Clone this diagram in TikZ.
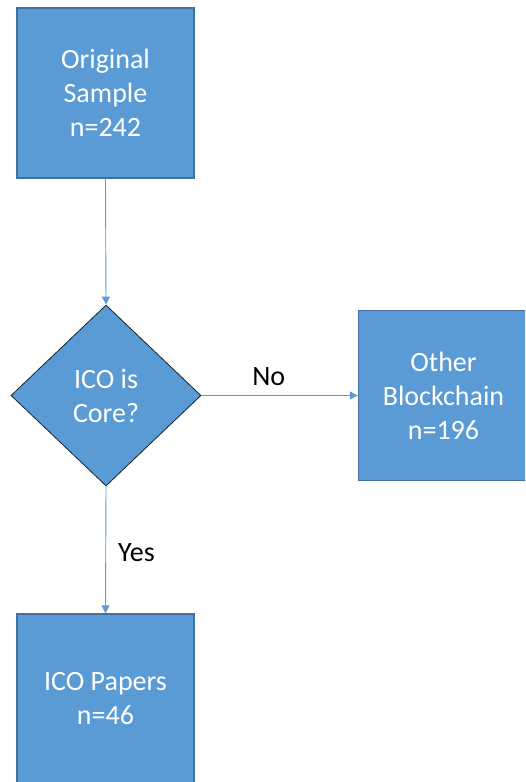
\documentclass[tikz,border=0pt]{standalone}
\usepackage{fontspec}
\setmainfont{Carlito}
\usetikzlibrary{shapes.geometric,arrows.meta}
\definecolor{boxfill}{HTML}{5B9BD5}
\definecolor{boxedge}{HTML}{41719C}
\definecolor{linkcol}{HTML}{5B9BD5}
\tikzset{
  procbox/.style={draw=boxedge, line width=1.3pt, fill=boxfill, minimum width=177pt,
    minimum height=170pt, inner sep=0pt, text=white, align=center,
    font=\fontsize{28}{34}\selectfont},
  decision/.style={diamond, draw=black!70!boxedge, line width=0.8pt, fill=boxfill,
    minimum width=190pt, minimum height=181pt, inner sep=0pt, text=white,
    align=center, font=\fontsize{28}{34}\selectfont},
  link/.style={draw=linkcol, line width=0.9pt,
    -{Triangle[length=8pt,width=8pt]}},
  lbl/.style={font=\fontsize{28}{32}\selectfont, text=black, inner sep=0pt}
}
\begin{document}
\begin{tikzpicture}[x=1pt,y=-1pt]
  \useasboundingbox (0,0) rectangle (525,782);
  \clip (0,0) rectangle (525,782);
  \node[procbox] (orig) at (105.5,93) {Original\\Sample\\n=242};
  \node[decision] (core) at (106,395.5) {ICO is\\Core?};
  \node[procbox, minimum width=170pt] (other) at (443.5,395.5) {Other\\Blockchain\\n=196};
  \node[procbox] (ico) at (105.5,699) {ICO Papers\\n=46};
  \draw[link] (orig.south) -- (core.north);
  \draw[link] (core.east) -- node[lbl, pos=0.43, above=9pt] {No} (other.west);
  \draw[link] (core.south) -- node[lbl, pos=0.52, right=12pt] {Yes} (ico.north);
\end{tikzpicture}
\end{document}
